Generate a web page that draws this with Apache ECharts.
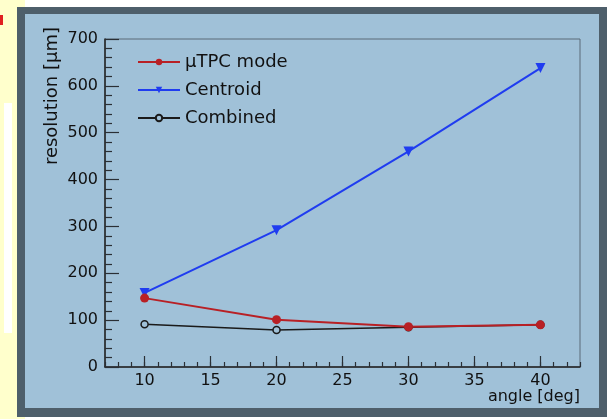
<!DOCTYPE html>
<html>
<head>
<meta charset="utf-8">
<script src="https://cdn.jsdelivr.net/npm/echarts@6/dist/echarts.min.js"></script>
<style>
html,body{margin:0;padding:0;background:#ffffff;}
#chart{width:615px;height:419px;}
</style>
</head>
<body>
<div id="chart"></div>
<script>
// ---- data ----
const angles = [10, 20, 30, 40];
const utpcValues = [147, 101, 86, 90];
const centroidValues = [158, 292, 460, 638];
const combinedValues = [91, 79, 85, 90];
const xTickLabels = [10, 15, 20, 25, 30, 35, 40];
const seriesNames = ['\u00b5TPC mode', 'Centroid', 'Combined'];
const xTitle = 'angle [deg]';
const yTitle = 'resolution [\u00b5m]';

const pair = (xs, ys) => xs.map((x, i) => [x, ys[i]]);
const FONT = 'DejaVu Sans';
const TICK = '#2a2f35';
const chart = echarts.init(document.getElementById('chart'), null, {renderer: 'canvas'});

chart.setOption({
  animation: false,
  backgroundColor: 'transparent',
  graphic: [
    {type: 'rect', z: -20, silent: true, shape: {x: 0, y: 0, width: 25, height: 419}, style: {fill: '#ffffcc'}},
    {type: 'rect', z: -19, silent: true, shape: {x: 4, y: 103, width: 8, height: 230}, style: {fill: '#ffffff'}},
    {type: 'rect', z: -19, silent: true, shape: {x: 0, y: 15, width: 3, height: 10}, style: {fill: '#e02020'}},
    {type: 'rect', z: -18, silent: true, shape: {x: 17, y: 7, width: 590, height: 410}, style: {fill: '#4e5f6b'}},
    {type: 'rect', z: -17, silent: true, shape: {x: 25, y: 14, width: 574, height: 394}, style: {fill: '#a0c1d8'}}
  ],
  grid: {
    left: 105, right: 35, top: 39, bottom: 52,
    show: true, borderColor: '#5b6b78', borderWidth: 1, backgroundColor: 'transparent'
  },
  legend: {
    orient: 'vertical',
    left: 137, top: 52, padding: 0,
    itemWidth: 42, itemHeight: 8, itemGap: 8,
    data: seriesNames,
    textStyle: {fontFamily: FONT, fontSize: 18, color: '#111', lineHeight: 20}
  },
  xAxis: [
    {
      type: 'value', min: 7, max: 43,
      name: xTitle, nameLocation: 'end', nameGap: 0,
      nameTextStyle: {fontFamily: FONT, fontSize: 16, color: '#111', align: 'right', verticalAlign: 'top', padding: [22, 0, 0, 0]},
      axisLine: {show: true, lineStyle: {color: '#222', width: 1.5}},
      axisTick: {show: true, inside: true, length: 11, customValues: xTickLabels, lineStyle: {color: TICK, width: 1.2}},
      axisLabel: {show: true, customValues: xTickLabels, margin: 6, fontFamily: FONT, fontSize: 16, color: '#111'},
      splitLine: {show: false}
    },
    {
      type: 'value', min: 7, max: 43, interval: 1, position: 'bottom',
      axisLine: {show: false},
      axisTick: {show: true, inside: true, length: 5, lineStyle: {color: TICK, width: 1.2}},
      axisLabel: {show: false},
      splitLine: {show: false}
    }
  ],
  yAxis: {
    type: 'value', min: 0, max: 700, interval: 100,
    name: yTitle, nameLocation: 'end', nameRotate: 90, nameGap: 12,
    nameTextStyle: {fontFamily: FONT, fontSize: 18, color: '#111', align: 'right', verticalAlign: 'bottom', padding: [0, 0, 44, 0]},
    axisLine: {show: true, lineStyle: {color: '#222', width: 1.5}},
    axisTick: {show: true, inside: true, length: 14, lineStyle: {color: TICK, width: 1.2}},
    minorTick: {show: true, splitNumber: 5, length: 7, lineStyle: {color: TICK, width: 1.2}},
    axisLabel: {margin: 7, fontFamily: FONT, fontSize: 16, color: '#111'},
    splitLine: {show: false}
  },
  series: [
    {
      name: seriesNames[2], type: 'line', data: pair(angles, combinedValues),
      symbol: 'circle', symbolSize: 7,
      lineStyle: {color: '#1a1a1a', width: 1.5},
      itemStyle: {color: '#a0c1d8', borderColor: '#1a1a1a', borderWidth: 1.5}
    },
    {
      name: seriesNames[1], type: 'line', data: pair(angles, centroidValues),
      symbol: 'triangle', symbolRotate: 180, symbolSize: 10,
      lineStyle: {color: '#1f3cf0', width: 2},
      itemStyle: {color: '#1f3cf0'}
    },
    {
      name: seriesNames[0], type: 'line', data: pair(angles, utpcValues),
      symbol: 'circle', symbolSize: 9,
      lineStyle: {color: '#b82025', width: 2},
      itemStyle: {color: '#b82025'}
    }
  ]
});
</script>
</body>
</html>
